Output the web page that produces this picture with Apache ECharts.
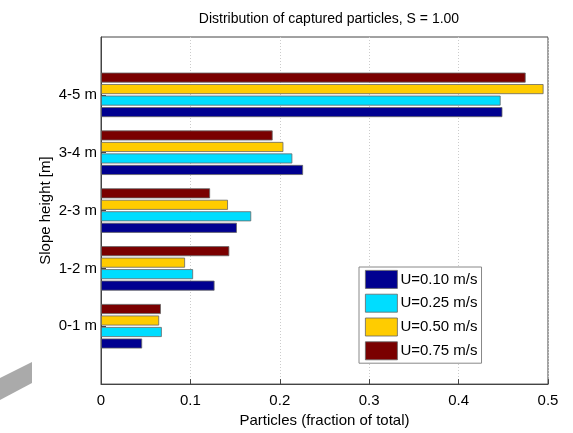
<!DOCTYPE html>
<html><head><meta charset="utf-8">
<script src="https://cdn.jsdelivr.net/npm/echarts@6/dist/echarts.min.js"></script>
<style>html,body{margin:0;padding:0;background:#fff}#c{width:573px;height:433px}</style>
</head><body><div id="c"></div>
<script>
const categories = ['', '0-1 m', '1-2 m', '2-3 m', '3-4 m', '4-5 m', ''];
const seriesNames = ['U=0.10 m/s', 'U=0.25 m/s', 'U=0.50 m/s', 'U=0.75 m/s'];
const u010 = [null, 0.046, 0.127, 0.152, 0.226, 0.449, null];
const u025 = [null, 0.068, 0.103, 0.168, 0.214, 0.447, null];
const u050 = [null, 0.065, 0.094, 0.142, 0.204, 0.495, null];
const u075 = [null, 0.067, 0.1435, 0.122, 0.192, 0.475, null];
const xTicks = [0, 0.1, 0.2, 0.3, 0.4, 0.5];
const colors = ['#000090', '#00DDFF', '#FFCC00', '#7A0000'];

const chart = echarts.init(document.getElementById('c'), null, {renderer: 'canvas'});
const font = 'Liberation Sans';
const values = [u010, u025, u050, u075];
const series = [3, 2, 1, 0].map(i => ({
  name: seriesNames[i], type: 'bar', data: values[i],
  barWidth: 10, barGap: '15%',
  itemStyle: {color: colors[i], borderColor: '#666', borderWidth: 0.8},
  animation: false
}));
chart.setOption({
  animation: false,
  textStyle: {fontFamily: font},
  title: {text: 'Distribution of captured particles, S = 1.00', left: 324, top: 7, textAlign: 'center',
    textStyle: {fontFamily: font, fontSize: 14, fontWeight: 'normal', color: '#000'}},
  grid: {left: 101, right: 25, top: 37, bottom: 45, show: true, borderColor: '#444', borderWidth: 1},
  legend: {
    data: seriesNames, orient: 'vertical', left: 359, top: 267,
    itemWidth: 32, itemHeight: 18, itemGap: 5, padding: [3, 4, 3, 6],
    borderColor: '#888', borderWidth: 1, backgroundColor: '#fff',
    textStyle: {fontFamily: font, fontSize: 15, color: '#000', padding: [0, 0, 0, -2]},
    icon: 'rect',
    itemStyle: {borderColor: '#666', borderWidth: 0.8}
  },
  xAxis: {
    type: 'value', min: 0, max: 0.5, interval: 0.1,
    name: 'Particles (fraction of total)', nameLocation: 'middle', nameGap: 27,
    nameTextStyle: {fontFamily: font, fontSize: 15, color: '#000'},
    axisLine: {show: true, lineStyle: {color: '#444'}},
    axisTick: {show: true, inside: true, length: 5, lineStyle: {color: '#444'}},
    axisLabel: {fontFamily: font, fontSize: 15, color: '#000', margin: 9,
      formatter: v => xTicks.includes(Math.round(v * 10) / 10) ? String(Math.round(v * 10) / 10) : ''},
    splitLine: {show: true, lineStyle: {color: '#ccc', type: [1, 2]}}
  },
  yAxis: {
    type: 'category', data: categories, boundaryGap: false,
    name: 'Slope height [m]', nameLocation: 'middle', nameGap: 48, nameRotate: 90,
    nameMoveOverlap: false,
    nameTextStyle: {fontFamily: font, fontSize: 15, color: '#000'},
    axisLine: {show: true, lineStyle: {color: '#444'}},
    axisTick: {show: true, inside: true, length: 5, interval: (i, v) => v !== '', lineStyle: {color: '#444'}},
    axisLabel: {fontFamily: font, fontSize: 15, color: '#000', margin: 4, interval: 0},
    splitLine: {show: false}
  },
  graphic: [{
    type: 'polygon', z: -1,
    shape: {points: [[0, 378], [32, 362], [32, 383], [0, 400]]},
    style: {fill: '#aaa'}
  }],
  series: series
});
</script></body></html>
